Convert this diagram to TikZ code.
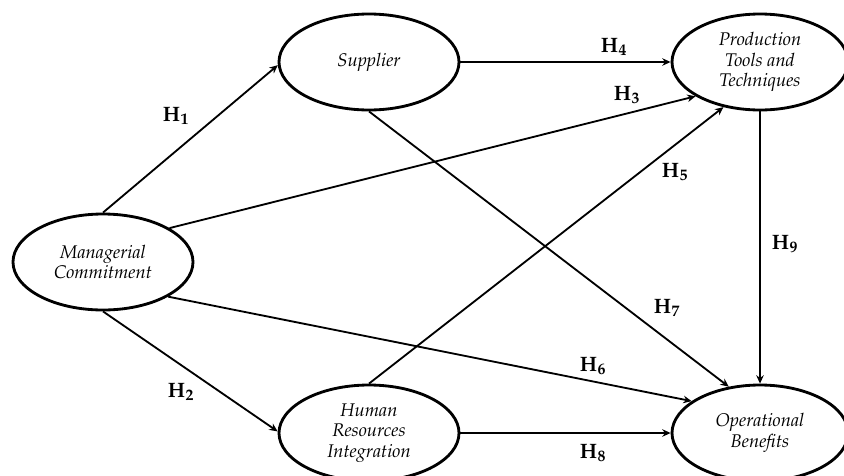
\documentclass[tikz,border=0pt]{standalone}
\usepackage[T1]{fontenc}
\usepackage{mathpazo}
\usetikzlibrary{shapes.geometric,arrows.meta}
\tikzset{
  var/.style={ellipse, draw, line width=1.7pt, minimum width=108pt, minimum height=57.6pt, inner sep=0pt, align=center, font=\itshape\fontsize{11}{12.2}\selectfont},
  conn/.style={line width=1.1pt, -{Stealth[length=5pt,width=4.5pt]}},
  hlab/.style={font=\fontsize{12.5}{14}\selectfont}
}
\begin{document}
\begin{tikzpicture}[x=0.6pt,y=-0.6pt]
\useasboundingbox (0,0) rectangle (844,475);
\node[var] (mc) at (103,262) {Managerial\\Commitment};
\node[var] (sp) at (369,62) {Supplier};
\node[var, minimum width=105.6pt] (pt) at (760,62) {Production\\Tools and\\Techniques};
\node[var] (hr) at (369,433) {Human\\Resources\\Integration};
\node[var, minimum width=105.6pt] (ob) at (760,433) {Operational\\Benefits};
\draw[conn] (mc.north) -- (sp.182);
\draw[conn] (mc.south) -- (hr.179);
\draw[conn] (sp.east) -- (pt.west);
\draw[conn] (mc.27.6) -- (pt.208.7);
\draw[conn] (hr.north) -- (pt.231);
\draw[conn] (sp.south) -- (ob.124.3);
\draw[conn] (mc.332.4) -- (ob.155);
\draw[conn] (hr.east) -- (ob.west);
\draw[conn] (pt.south) -- (ob.north);
\node[hlab] (h1) at (176,116) {$\mathbf{H_1}$};
\node[hlab] (h2) at (181,392) {$\mathbf{H_2}$};
\node[hlab] (h3) at (627,95) {$\mathbf{H_3}$};
\node[hlab] (h4) at (614,47) {$\mathbf{H_4}$};
\node[hlab] (h5) at (675,172) {$\mathbf{H_5}$};
\node[hlab] (h6) at (593,366) {$\mathbf{H_6}$};
\node[hlab] (h7) at (667,308) {$\mathbf{H_7}$};
\node[hlab] (h8) at (593,453) {$\mathbf{H_8}$};
\node[hlab] (h9) at (785,244) {$\mathbf{H_9}$};
\end{tikzpicture}
\end{document}
